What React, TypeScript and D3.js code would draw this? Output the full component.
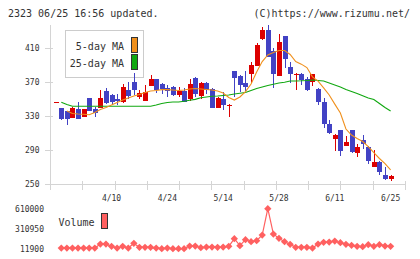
import * as d3 from 'd3';

// 2323 daily candles, 2020-03-30 .. 2020-06-25
const dates = [
  '3/30', '3/31', '4/1', '4/2', '4/3', '4/6', '4/7', '4/8', '4/9', '4/10',
  '4/13', '4/14', '4/15', '4/16', '4/17', '4/20', '4/21', '4/22', '4/23', '4/24',
  '4/27', '4/28', '4/30', '5/1', '5/7', '5/8', '5/11', '5/12', '5/13', '5/14',
  '5/15', '5/18', '5/19', '5/20', '5/21', '5/22', '5/25', '5/26', '5/27', '5/28',
  '5/29', '6/1', '6/2', '6/3', '6/4', '6/5', '6/8', '6/9', '6/10', '6/11',
  '6/12', '6/15', '6/16', '6/17', '6/18', '6/19', '6/22', '6/23', '6/24', '6/25',
];

const opens = [
  339, 336, 328, 338, 329, 351, 338, 340, 360, 355,
  350, 346, 361, 370, 352, 348, 365, 373, 368, 363,
  364, 355, 359, 350, 375, 354, 369, 362, 340, 350,
  342, 383, 377, 369, 380, 389, 421, 431, 407, 377,
  424, 388, 379, 379, 374, 370, 362, 347, 321, 303,
  313, 295, 313, 286, 302, 294, 270, 276, 261, 256,
];
const highs = [
  339, 336, 341, 346, 338, 351, 341, 361, 363, 356,
  356, 368, 370, 381, 361, 366, 378, 374, 369, 366,
  365, 364, 363, 373, 376, 370, 370, 363, 352, 358,
  344, 383, 378, 383, 394, 416, 435, 437, 410, 426,
  424, 394, 381, 381, 376, 380, 363, 351, 325, 309,
  314, 306, 314, 297, 308, 295, 290, 277, 270, 261,
];
const lows = [
  325, 320, 328, 327, 329, 336, 329, 340, 344, 343,
  343, 345, 350, 355, 350, 348, 365, 357, 356, 352,
  353, 352, 347, 348, 352, 350, 356, 340, 340, 337,
  329, 352, 358, 359, 369, 389, 420, 399, 363, 377,
  386, 369, 361, 367, 359, 365, 343, 316, 309, 289,
  283, 295, 286, 282, 291, 274, 270, 261, 255, 253,
];
const closes = [
  327, 326, 339, 327, 338, 336, 333, 351, 345, 346,
  348, 364, 354, 361, 357, 358, 373, 361, 362, 360,
  355, 360, 347, 368, 356, 369, 361, 340, 351, 343,
  343, 375, 366, 364, 390, 413, 431, 400, 380, 417,
  397, 380, 380, 372, 361, 380, 346, 321, 310, 308,
  289, 299, 288, 293, 297, 277, 276, 264, 256, 260,
];

const ma5 = [
  null, 336, 333, 332.4, 332, 331.5, 334, 337.6, 340, 343,
  346, 348.8, 351.2, 353.5, 355.3, 357.6, 359.4, 360, 361, 361,
  360.6, 360, 360.6, 361.8, 362.4, 361.8, 361.2, 360.6, 359.4, 357,
  351.8, 348.8, 352.4, 358.8, 367.6, 381.8, 394, 401.8, 404.7, 407,
  407, 402.4, 394, 391, 387, 376, 371, 363, 354.7, 344,
  333.5, 314.7, 307.6, 303.5, 300, 294, 287, 280, 274, 266.5,
];
const ma25 = [
  346.1, 343.5, 341.4, 341.5, 341.5, 341.5, 341.5, 341.5, 341.5, 341.5,
  341.5, 341.5, 341.5, 341.5, 341.5, 341.5, 341.5, 343, 344.7, 345.9,
  346.5, 346.5, 347.3, 348.6, 349.6, 351.4, 352.4, 353.2, 353.5, 354.1,
  354.7, 355.9, 356.7, 357.6, 360, 362.4, 364.1, 365.9, 367.3, 368.8,
  369.8, 371.2, 371.2, 371.4, 371.8, 372.4, 371.8, 371.2, 368.8, 366.5,
  364.1, 361.2, 358.8, 356.5, 353.8, 351.2, 349.4, 344.7, 340, 335.9,
];

const volumes = [
  21900, 21900, 21900, 21900, 21900, 21900, 21900, 81700, 81700, 46800,
  21900, 46800, 21900, 91600, 31800, 31800, 31800, 21900, 11900, 21900,
  11900, 11900, 11900, 51800, 51800, 26900, 36800, 36800, 31800, 36800,
  46800, 161400, 56800, 146500, 116600, 131500, 216300, 610000, 231200, 166400,
  116600, 76700, 31800, 31800, 31800, 21900, 81700, 106600, 111600, 126500,
  101600, 76700, 61700, 46800, 41800, 71700, 46800, 71700, 51800, 46800,
];

const prevClose = 346;

const priceTicks = [250, 290, 330, 370, 410];
const volumeTicks = [11900, 310950, 610000];
const dateLabels = ['4/10', '4/24', '5/14', '5/28', '6/11', '6/25'];

const UP = '#dc0000';
const DOWN = '#4242c4';
const MA5 = '#f0901c';
const MA25 = '#10a810';
const VOL = '#ff6060';
const AXIS = '#d4d4d4';
const TEXT = '#333';
const MONO = "'DejaVu Sans Mono', 'Liberation Mono', monospace";

export default function App() {
  const width = 420;
  const height = 259;

  const x = d3.scalePoint<string>().domain(dates).range([61.3, 390.6]);
  const y = d3.scaleLinear().domain([250, 410]).range([184, 48]);
  const vy = d3.scaleLinear().domain([11900, 610000]).range([248.7, 208.7]);
  // evenly spaced tick marks along the bottom axis
  const grid = d3.scaleLinear().domain([0, 11]).range([50, 405]);

  const maLine = d3
    .line<number | null>()
    .defined((v) => v != null)
    .x((_, i) => x(dates[i]) as number)
    .y((v) => y(v as number));

  const volLine = d3
    .line<number>()
    .x((_, i) => x(dates[i]) as number)
    .y((v) => vy(v));

  const diamond = d3.symbol((d3 as any).symbolDiamond2 ?? d3.symbolDiamond, 34);

  const bodyW = 5;
  const x0 = x(dates[0]) as number;

  return (
    <svg
      width={width}
      height={height}
      style={{ position: 'absolute', left: 0, top: 0, background: '#fff' }}
    >
      {/* header */}
      <text x={8} y={16.5} fontFamily={MONO} fontSize={10} fill={TEXT}>
        2323 06/25 16:56 updated.
      </text>
      <text x={410} y={16.5} fontFamily={MONO} fontSize={10} fill={TEXT} textAnchor="end">
        (C)https://www.rizumu.net/
      </text>

      {/* axes */}
      <g shapeRendering="crispEdges" stroke={AXIS} strokeWidth={1}>
        <line x1={50.5} x2={50.5} y1={25} y2={190} />
        <line x1={50} x2={405} y1={184.5} y2={184.5} />
        {d3.range(1, 12).map((i) => (
          <line key={i} x1={Math.round(grid(i)) + 0.5} x2={Math.round(grid(i)) + 0.5} y1={181} y2={190} />
        ))}
        {priceTicks.map((p) => (
          <line key={p} x1={45} x2={53} y1={Math.round(y(p)) + 0.5} y2={Math.round(y(p)) + 0.5} />
        ))}
      </g>

      {priceTicks.map((p) => (
        <text key={p} x={39.5} y={y(p) + 3} fontFamily={MONO} fontSize={8} fill={TEXT} textAnchor="end">
          {p}
        </text>
      ))}

      {dateLabels.map((d) => (
        <text key={d} x={x(d)} y={200.5} fontFamily={MONO} fontSize={8} fill={TEXT} textAnchor="middle">
          {d}
        </text>
      ))}

      {/* legend */}
      <g shapeRendering="crispEdges">
        <rect x={65.5} y={30.5} width={78} height={47} fill="#fff" stroke="#ccc" />
        <rect x={131.5} y={37.5} width={6} height={15} fill={MA5} stroke="#333" />
        <rect x={131.5} y={54.5} width={6} height={15} fill={MA25} stroke="#333" />
      </g>
      <text x={124} y={50} fontFamily={MONO} fontSize={10} fill={TEXT} textAnchor="end">
        5-day MA
      </text>
      <text x={124} y={66.7} fontFamily={MONO} fontSize={10} fill={TEXT} textAnchor="end">
        25-day MA
      </text>

      {/* previous close marker */}
      <line
        x1={x0 - 7}
        x2={x0 - 2}
        y1={Math.round(y(prevClose)) + 0.5}
        y2={Math.round(y(prevClose)) + 0.5}
        stroke={UP}
        shapeRendering="crispEdges"
      />

      {/* candles */}
      <g shapeRendering="crispEdges">
        {dates.map((d, i) => {
          const cx = Math.round(x(d) as number);
          const o = opens[i];
          const c = closes[i];
          const color = c >= o ? UP : DOWN;
          const top = y(Math.max(o, c));
          const bot = y(Math.min(o, c));
          return (
            <g key={d}>
              <line x1={cx + 0.5} x2={cx + 0.5} y1={y(highs[i])} y2={y(lows[i])} stroke={color} />
              <rect
                x={cx - 2}
                y={top}
                width={bodyW}
                height={Math.max(1.2, bot - top)}
                fill={color}
              />
            </g>
          );
        })}
      </g>

      {/* moving averages */}
      <path d={maLine(ma25) ?? ''} fill="none" stroke={MA25} strokeWidth={1.1} />
      <path d={maLine(ma5) ?? ''} fill="none" stroke={MA5} strokeWidth={1.1} />

      {/* volume */}
      {volumeTicks.map((v) => (
        <text key={v} x={44} y={vy(v) + 3} fontFamily={MONO} fontSize={8} fill={TEXT} textAnchor="end">
          {v}
        </text>
      ))}
      <text x={58.5} y={225.5} fontFamily={MONO} fontSize={10} fill={TEXT}>
        Volume
      </text>
      <rect x={101.5} y={213.5} width={6} height={15} fill={VOL} stroke="#333" shapeRendering="crispEdges" />
      <path d={volLine(volumes) ?? ''} fill="none" stroke={VOL} strokeWidth={1.2} />
      {volumes.map((v, i) => (
        <path
          key={i}
          d={diamond() ?? ''}
          transform={`translate(${x(dates[i])},${vy(v)})`}
          fill={VOL}
        />
      ))}
    </svg>
  );
}
